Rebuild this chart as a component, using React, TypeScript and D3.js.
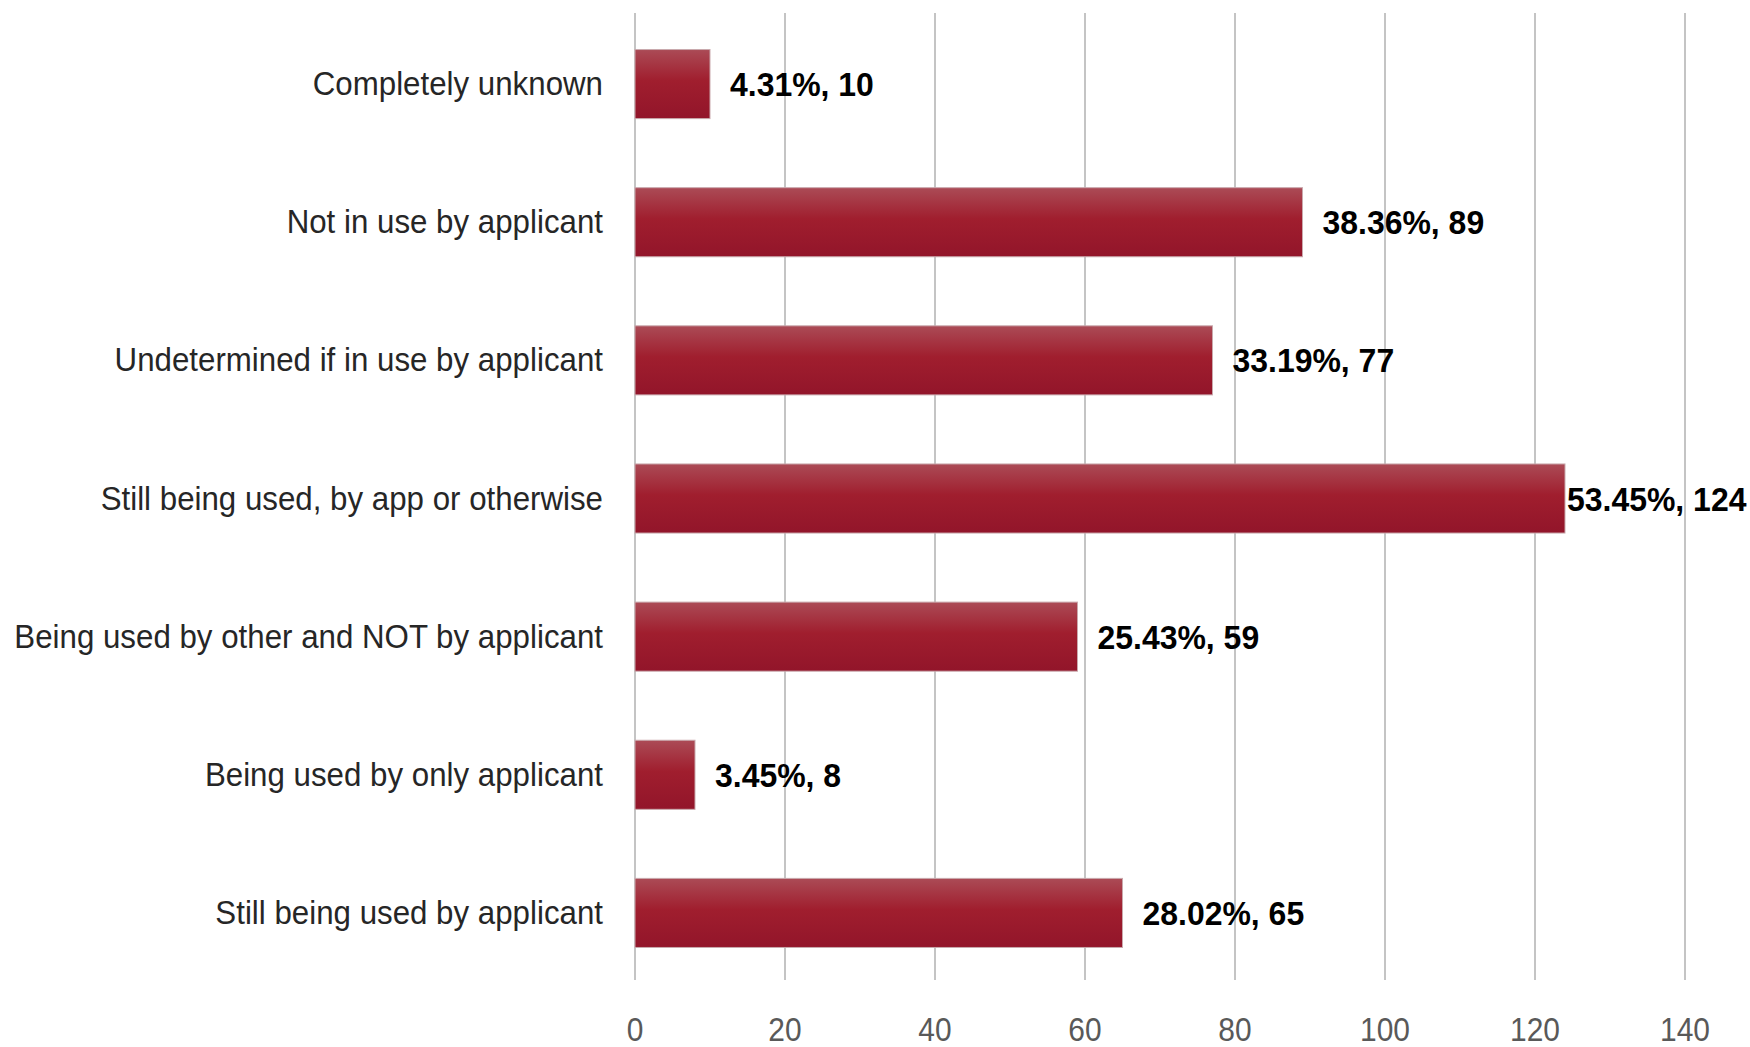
import React, { useEffect, useRef } from "react";
import * as d3 from "d3";

const categories = [
  "Completely unknown",
  "Not in use by applicant",
  "Undetermined if in use by applicant",
  "Still being used, by app or otherwise",
  "Being used by other and NOT by applicant",
  "Being used by only applicant",
  "Still being used by applicant",
];
const counts = [10, 89, 77, 124, 59, 8, 65];
const percents = ["4.31%", "38.36%", "33.19%", "53.45%", "25.43%", "3.45%", "28.02%"];
const tickValues = [0, 20, 40, 60, 80, 100, 120, 140];

const W = 1750;
const H = 1047;
const FONT = "'Liberation Sans', Arial, sans-serif";
const SX = 0.94;
const SX_CAT = 0.92;
const SX_TICK = 0.88;

export default function App() {
  const ref = useRef<SVGSVGElement>(null);

  useEffect(() => {
    const svg = d3.select(ref.current);
    svg.selectAll("*").remove();

    const x = d3.scaleLinear().domain([0, 140]).range([635, 1685]);
    const y = d3
      .scaleBand<string>()
      .domain(categories)
      .range([15, 982])
      .paddingInner(0.5)
      .paddingOuter(0.25);

    const defs = svg.append("defs");
    const grad = defs
      .append("linearGradient")
      .attr("id", "barGrad")
      .attr("x1", 0)
      .attr("y1", 0)
      .attr("x2", 0)
      .attr("y2", 1);
    grad.append("stop").attr("offset", "0%").attr("stop-color", "#ab4b56");
    grad.append("stop").attr("offset", "45%").attr("stop-color", "#a01e2e");
    grad.append("stop").attr("offset", "100%").attr("stop-color", "#92152a");

    // gridlines
    svg
      .append("g")
      .selectAll("line")
      .data(tickValues)
      .join("line")
      .attr("x1", (d) => x(d))
      .attr("x2", (d) => x(d))
      .attr("y1", 13)
      .attr("y2", 980)
      .attr("stroke", "#c4c4c4")
      .attr("stroke-width", 2);

    // tick labels
    svg
      .append("g")
      .selectAll("text")
      .data(tickValues)
      .join("text")
      .attr("transform", (d) => `translate(${x(d)},1041) scale(${SX_TICK},1)`)
      .attr("text-anchor", "middle")
      .attr("font-family", FONT)
      .attr("font-size", 34)
      .attr("fill", "#595959")
      .text((d) => String(d));

    // bars
    svg
      .append("g")
      .selectAll("rect")
      .data(categories)
      .join("rect")
      .attr("x", x(0))
      .attr("y", (d) => y(d)!)
      .attr("width", (_d, i) => x(counts[i]) - x(0))
      .attr("height", y.bandwidth())
      .attr("fill", "url(#barGrad)")
      .attr("stroke", "#c9a9ad")
      .attr("stroke-width", 1);

    // category labels
    svg
      .append("g")
      .selectAll("text")
      .data(categories)
      .join("text")
      .attr(
        "transform",
        (d) => `translate(603,${y(d)! + y.bandwidth() / 2 + 11}) scale(${SX_CAT},1)`
      )
      .attr("text-anchor", "end")
      .attr("font-family", FONT)
      .attr("font-size", 34)
      .attr("fill", "#262626")
      .text((d) => d);

    // value labels
    const labelY = (d: string) => y(d)! + y.bandwidth() / 2 + 12;
    const vl = svg
      .append("g")
      .selectAll<SVGTextElement, string>("text")
      .data(categories)
      .join("text")
      .attr("transform", (d, i) => `translate(${x(counts[i]) + 20},${labelY(d)}) scale(${SX},1)`)
      .attr("font-family", FONT)
      .attr("font-size", 34)
      .attr("font-weight", "bold")
      .attr("fill", "#000")
      .text((_d, i) => `${percents[i]}, ${counts[i]}`);

    vl.each(function (d, i) {
      const len = this.getComputedTextLength() * SX;
      const start = x(counts[i]) + 20;
      if (start + len > W - 6) {
        const nx = Math.max(x(counts[i]) + 2, W - 6 - len);
        d3.select(this).attr("transform", `translate(${nx},${labelY(d)}) scale(${SX},1)`);
      }
    });
  }, []);

  return (
    <svg
      ref={ref}
      width={W}
      height={H}
      style={{ position: "absolute", left: 0, top: 0, background: "#fff" }}
    />
  );
}
